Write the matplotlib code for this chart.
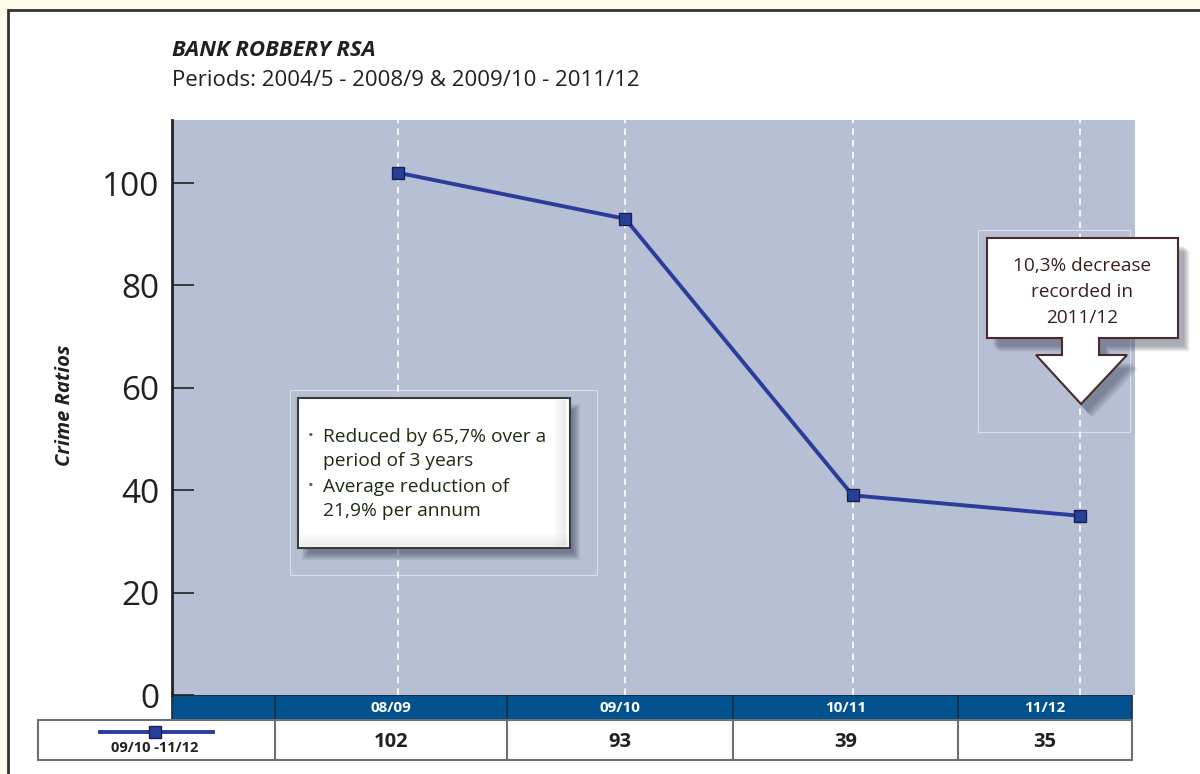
import matplotlib
matplotlib.use("Agg")
import matplotlib.pyplot as plt
from matplotlib.patches import Rectangle, Polygon

plt.rcParams["font.family"] = ["Open Sans", "DejaVu Sans"]

# data
periods = ["08/09", "09/10", "10/11", "11/12"]
crime_ratios = [102, 93, 39, 35]
series_label = "09/10 -11/12"
y_ticks = [0, 20, 40, 60, 80, 100]
title = "BANK ROBBERY RSA"
subtitle = "Periods: 2004/5 - 2008/9 & 2009/10 - 2011/12"
note_left = ["Reduced by 65,7% over a\nperiod of 3 years",
             "Average reduction of\n21,9% per annum"]
note_right = "10,3% decrease\nrecorded in\n2011/12"

W, H = 1200, 774
BLUE_HDR = "#02528f"
LINE_C = "#2b3c9b"
PLOT_BG = "#b6bfd3"
TXT = "#231f20"

fig = plt.figure(figsize=(W / 100, H / 100), dpi=100)
fig.patch.set_facecolor("#fffbea")


def fig_rect(x0, y0, x1, y1):
    # pixel box -> figure fraction [left, bottom, width, height]
    return [x0 / W, 1 - y1 / H, (x1 - x0) / W, (y1 - y0) / H]


# background layer (frame + table), pixel coords
back = fig.add_axes([0, 0, 1, 1], zorder=0)
back.set_xlim(0, W)
back.set_ylim(H, 0)
back.axis("off")
back.add_patch(Rectangle((8, 10), W + 20, H + 20, facecolor="white",
                         edgecolor="#333333", linewidth=2))

# main plot
x0, x1, ytop, ybot = 172, 1135, 120, 695
ax = fig.add_axes(fig_rect(x0, ytop, x1, ybot), zorder=1)
ax.set_facecolor(PLOT_BG)
xs = list(range(len(periods)))
step = (1080 - 398) / 3
ax.set_xlim((x0 - 398) / step, (x1 - 398) / step)
px_per_unit = (695 - 183) / 100
ax.set_ylim(0, (ybot - ytop) / px_per_unit)

for x in xs:
    ax.axvline(x, color="white", linestyle=(0, (4, 3)), linewidth=1.2, zorder=1)

ax.plot(xs, crime_ratios, color=LINE_C, linewidth=2.8, marker="s", markersize=8,
        markerfacecolor="#24409a", markeredgecolor="#1a1f4f", markeredgewidth=1, zorder=3)

ax.set_yticks(y_ticks)
ax.set_yticklabels([str(v) for v in y_ticks], fontsize=24, color=TXT)
ax.tick_params(axis="y", direction="in", length=16, width=1.2, color="#222222", pad=9)
ax.set_xticks([])
for s in ["top", "right", "bottom"]:
    ax.spines[s].set_visible(False)
ax.spines["left"].set_linewidth(2)
ax.spines["left"].set_color("#222222")

fig.text(65 / W, 1 - 405 / H, "Crime Ratios", rotation=90, fontsize=14.5,
         fontweight="bold", fontstyle="italic", color=TXT, ha="center", va="center")
fig.text(172 / W, 1 - 50 / H, title, fontsize=16, fontweight="bold",
         fontstyle="italic", color=TXT, ha="left", va="center")
fig.text(172 / W, 1 - 80 / H, subtitle, fontsize=16, color=TXT, ha="left", va="center")

# data table under the plot
bounds = [275, 507, 733, 958, 1132]
back.add_patch(Rectangle((172, 695), 1132 - 172, 25, facecolor=BLUE_HDR,
                         edgecolor="#1a2a40", linewidth=1.2))
for b in bounds[:-1]:
    back.plot([b, b], [695, 720], color="#1a2a40", linewidth=1.2)
back.add_patch(Rectangle((38, 720), 1132 - 38, 40, facecolor="white",
                         edgecolor="#6d6e71", linewidth=1.5))
for b in bounds[:-1]:
    back.plot([b, b], [720, 760], color="#6d6e71", linewidth=1.5)
for i, (p, v) in enumerate(zip(periods, crime_ratios)):
    cx = (bounds[i] + bounds[i + 1]) / 2
    back.text(cx, 708, p, color="white", fontsize=11, fontweight="bold",
              ha="center", va="center")
    back.text(cx, 742, str(v), color=TXT, fontsize=14.5, fontweight="bold",
              ha="center", va="center")
back.plot([100, 213], [732, 732], color=LINE_C, linewidth=2.8)
back.plot([155], [732], marker="s", markersize=8, color="#24409a",
          markeredgecolor="#1a1f4f")
back.text(155, 748, series_label, fontsize=10.5, fontweight="bold", color=TXT,
          ha="center", va="center")

# callouts on top
front = fig.add_axes([0, 0, 1, 1], zorder=5)
front.set_xlim(0, W)
front.set_ylim(H, 0)
front.axis("off")

# faint selection frames
front.add_patch(Rectangle((290, 390), 307, 185, fill=False, edgecolor="white",
                          linewidth=0.8, alpha=0.5))
front.add_patch(Rectangle((978, 230), 152, 202, fill=False, edgecolor="white",
                          linewidth=0.8, alpha=0.5))

# left note box with soft shadow
for k in range(8):
    front.add_patch(Rectangle((298 + 4 + k, 398 + 6 + k), 272 - 2 * k + 6, 150 - 2 * k + 6,
                              facecolor="#2a2f45", edgecolor="none", alpha=0.07))
front.add_patch(Rectangle((298, 398), 272, 150, facecolor="white",
                          edgecolor="#3a3a3a", linewidth=1.5))
for k in range(6):
    front.add_patch(Rectangle((300, 546 - 2 * k - 2), 268, 2, facecolor="#b8b8b8",
                              edgecolor="none", alpha=0.25 - 0.04 * k))
    front.add_patch(Rectangle((566 - 2 * k - 2, 400), 2, 146, facecolor="#b8b8b8",
                              edgecolor="none", alpha=0.25 - 0.04 * k))
by = [437, 487]
for y, t in zip(by, note_left):
    front.text(311, y, "•", fontsize=11, color="#555555", ha="center", va="center")
    front.text(323, y - 9, t, fontsize=13.8, color="#1e2b12", ha="left", va="top",
               linespacing=1.42)

# right arrow callout
arrow = [(987, 238), (1178, 238), (1178, 338), (1099, 338), (1099, 355),
         (1127, 355), (1081, 404), (1036, 355), (1062, 355), (1062, 338), (987, 338)]
for k in range(8):
    pts = [(x + 6 + k * 0.8, y + 8 + k * 0.8) for x, y in arrow]
    front.add_patch(Polygon(pts, closed=True, facecolor="#2a2f45", edgecolor="none",
                            alpha=0.06))
front.add_patch(Polygon(arrow, closed=True, facecolor="white", edgecolor="#4a2a2c",
                        linewidth=1.5))
front.text(1082, 292, note_right, fontsize=13.7, color="#3b1e20", ha="center",
           va="center", linespacing=1.55)

fig.savefig("out.png", dpi=100, facecolor=fig.get_facecolor())
